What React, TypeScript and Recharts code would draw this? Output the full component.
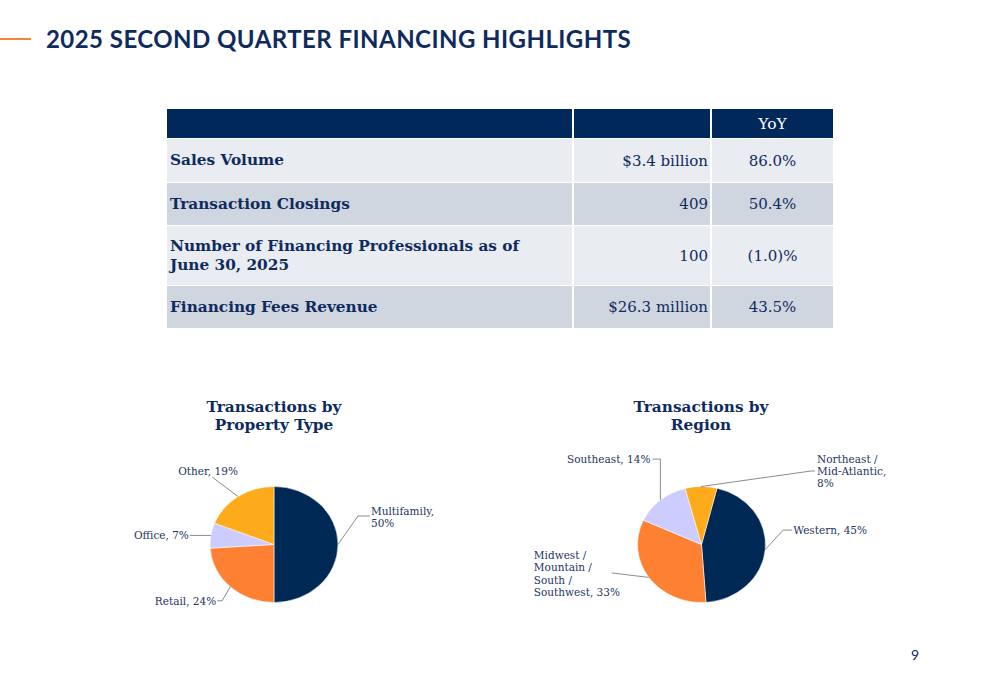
import React from 'react';
import { PieChart, Pie, Cell, Sector } from 'recharts';

// ---------- data ----------
const propertyTypes = ['Multifamily', 'Retail', 'Office', 'Other'];
const propertyShares = [50, 24, 7, 19];

const regions = ['Western', 'Midwest / Mountain / South / Southwest', 'Southeast', 'Northeast / Mid-Atlantic'];
const regionShares = [45, 33, 14, 8];

const tableMetrics = ['Sales Volume', 'Transaction Closings', 'Number of Financing Professionals as of|June 30, 2025', 'Financing Fees Revenue'];
const tableValues = ['$3.4 billion', '409', '100', '$26.3 million'];
const tableYoY = ['86.0%', '50.4%', '(1.0)%', '43.5%'];
const yoyHeader = 'YoY';

const pageTitle = '2025 SECOND QUARTER FINANCING HIGHLIGHTS';
const propertyTitle = ['Transactions by', 'Property Type'];
const regionTitle = ['Transactions by', 'Region'];
const pageNumber = '9';

// ---------- styles ----------
const NAVY = '#002855';
const ORANGE = '#fe8133';
const LAVENDER = '#cccdfe';
const AMBER = '#fdab1a';
const TEXT = '#0f2b5e';
const LABEL = '#1d3461';
const SERIF = '"DejaVu Serif", Georgia, serif';
const SX = 1.103;

const propertyColors = [NAVY, ORANGE, LAVENDER, AMBER];
const regionColors = [NAVY, ORANGE, LAVENDER, AMBER];

type Layout = { ex: number; ey: number; hx: number; anchor: 'start' | 'end' | 'middle'; tx: number; ty: number; wrap: string };

const propertyLayout: Layout[] = [
  { ex: 20, ey: -28.5, hx: 12, anchor: 'start', tx: 1, ty: 1, wrap: 'comma' },
  { ex: -8, ey: 14, hx: -5, anchor: 'end', tx: -1, ty: 0, wrap: 'one' },
  { ex: -3, ey: 0, hx: -18, anchor: 'end', tx: -1, ty: 0, wrap: 'one' },
  { ex: -26, ey: -19.5, hx: 0, anchor: 'middle', tx: -4, ty: -6, wrap: 'one' },
];

const regionLayout: Layout[] = [
  { ex: 18, ey: -19.5, hx: 9, anchor: 'start', tx: 1, ty: 0, wrap: 'one' },
  { ex: -37, ey: -4.5, hx: 0, anchor: 'start', tx: -78, ty: 0.5, wrap: 'slash' },
  { ex: 0, ey: -41, hx: -8, anchor: 'end', tx: -2, ty: 0, wrap: 'one' },
  { ex: 110, ey: -15.5, hx: 4, anchor: 'start', tx: 2, ty: 0, wrap: 'slashComma' },
];

const propertyData = propertyTypes.map((name, i) => ({ name, value: propertyShares[i] }));
const regionData = regions.map((name, i) => ({ name, value: regionShares[i] }));

function labelLines(name: string, v: number, wrap: string): string[] {
  const parts = name.split(' / ');
  if (wrap === 'comma') return [`${name},`, `${v}%`];
  if (wrap === 'slash') return parts.map((p, i) => (i < parts.length - 1 ? `${p} /` : `${p}, ${v}%`));
  if (wrap === 'slashComma') return [...parts.map((p, i) => (i < parts.length - 1 ? `${p} /` : `${p},`)), `${v}%`];
  return [`${name}, ${v}%`];
}

const RAD = Math.PI / 180;
const LINE_H = 12.4;

function makeLabel(layout: Layout[]) {
  return (props: any) => {
    const { cx, cy, midAngle, outerRadius, index, name, value } = props;
    const L = layout[index];
    const x0 = cx + outerRadius * SX * Math.cos(-midAngle * RAD);
    const y0 = cy + outerRadius * Math.sin(-midAngle * RAD);
    const x1 = x0 + L.ex;
    const y1 = y0 + L.ey;
    const x2 = x1 + L.hx;
    const lines = labelLines(name, value, L.wrap);
    const tx = x2 + L.tx;
    const tyCenter = y1 + L.ty;
    const firstY = tyCenter - ((lines.length - 1) * LINE_H) / 2;
    return (
      <g key={`lbl-${index}`}>
        <polyline points={`${x0},${y0} ${x1},${y1} ${x2},${y1}`} fill="none" stroke="#7f7f7f" strokeWidth={0.9} />
        <text x={tx} y={firstY} textAnchor={L.anchor} fontFamily={SERIF} fontSize={10.5} fill={LABEL} dominantBaseline="central">
          {lines.map((ln, k) => (
            <tspan key={k} x={tx} y={firstY + k * LINE_H}>{ln}</tspan>
          ))}
        </text>
      </g>
    );
  };
}

const EllipseSector = (props: any) => {
  const { cx, cy } = props;
  return (
    <g transform={`translate(${cx} ${cy}) scale(${SX} 1) translate(${-cx} ${-cy})`}>
      <Sector {...props} />
    </g>
  );
};

const cellBase: React.CSSProperties = { position: 'absolute', display: 'flex', alignItems: 'center', boxSizing: 'border-box' };

const rowTops = [139, 183, 226, 286];
const rowHeights = [43, 42, 59, 42];
const rowColors = ['#e9ecf1', '#cfd6e0', '#e9ecf1', '#cfd6e0'];
const colLeft = [167, 574, 712];
const colWidth = [405, 136, 121];

export default function App() {
  return (
    <div style={{ position: 'absolute', left: 0, top: 0, width: 1000, height: 685, background: '#fff', overflow: 'hidden' }}>
      {/* title */}
      <div style={{ position: 'absolute', left: 0, top: 38, width: 31, height: 2, background: '#f5843c' }} />
      <div style={{ position: 'absolute', left: 46, top: 24, fontFamily: 'Lato, sans-serif', fontWeight: 700, fontSize: 24, letterSpacing: 0.45, color: TEXT, whiteSpace: 'nowrap', lineHeight: '30px' }}>
        {pageTitle}
      </div>

      {/* table header */}
      {colLeft.map((l, c) => (
        <div key={`h${c}`} style={{ ...cellBase, left: l, top: 109, width: colWidth[c], height: 29, background: '#00285a', justifyContent: 'center', color: '#fff', fontFamily: SERIF, fontSize: 15.5 }}>
          {c === 2 ? yoyHeader : ''}
        </div>
      ))}
      {tableMetrics.map((m, r) => (
        <React.Fragment key={`r${r}`}>
          <div style={{ ...cellBase, left: colLeft[0], top: rowTops[r], width: colWidth[0], height: rowHeights[r], background: rowColors[r], paddingLeft: 3, color: TEXT, fontFamily: SERIF, fontWeight: 700, fontSize: 15.3, lineHeight: '19px' }}>
            <div>{m.split('|').map((s, k) => <div key={k}>{s}</div>)}</div>
          </div>
          <div style={{ ...cellBase, left: colLeft[1], top: rowTops[r], width: colWidth[1], height: rowHeights[r], background: rowColors[r], justifyContent: 'flex-end', paddingRight: 2, color: TEXT, fontFamily: SERIF, fontSize: 15 }}>
            {tableValues[r]}
          </div>
          <div style={{ ...cellBase, left: colLeft[2], top: rowTops[r], width: colWidth[2], height: rowHeights[r], background: rowColors[r], justifyContent: 'center', color: TEXT, fontFamily: SERIF, fontSize: 15 }}>
            {tableYoY[r]}
          </div>
        </React.Fragment>
      ))}

      {/* pie titles */}
      <div style={{ position: 'absolute', left: 174, top: 398, width: 200, textAlign: 'center', fontFamily: SERIF, fontWeight: 700, fontSize: 15.3, lineHeight: '18px', color: TEXT }}>
        {propertyTitle.map((t, i) => <div key={i}>{t}</div>)}
      </div>
      <div style={{ position: 'absolute', left: 601, top: 398, width: 200, textAlign: 'center', fontFamily: SERIF, fontWeight: 700, fontSize: 15.3, lineHeight: '18px', color: TEXT }}>
        {regionTitle.map((t, i) => <div key={i}>{t}</div>)}
      </div>

      {/* pies */}
      <div style={{ position: 'absolute', left: 0, top: 380 }}>
        <PieChart width={1000} height={260} margin={{ top: 0, right: 0, bottom: 0, left: 0 }}>
          <Pie
            data={propertyData}
            dataKey="value"
            nameKey="name"
            cx={274}
            cy={164.5}
            outerRadius={58}
            startAngle={90}
            endAngle={-270}
            stroke="#ffffff"
            strokeWidth={0.5}
            isAnimationActive={false}
            labelLine={false}
            label={makeLabel(propertyLayout)}
            shape={EllipseSector}
          >
            {propertyData.map((d, i) => <Cell key={d.name} fill={propertyColors[i]} />)}
          </Pie>
          <Pie
            data={regionData}
            dataKey="value"
            nameKey="name"
            cx={701.5}
            cy={164.5}
            outerRadius={58}
            startAngle={76}
            endAngle={-284}
            stroke="#ffffff"
            strokeWidth={0.5}
            isAnimationActive={false}
            labelLine={false}
            label={makeLabel(regionLayout)}
            shape={EllipseSector}
          >
            {regionData.map((d, i) => <Cell key={d.name} fill={regionColors[i]} />)}
          </Pie>
        </PieChart>
      </div>

      <div style={{ position: 'absolute', left: 911, top: 646, fontFamily: 'Lato, sans-serif', fontSize: 14, color: TEXT }}>{pageNumber}</div>
    </div>
  );
}
